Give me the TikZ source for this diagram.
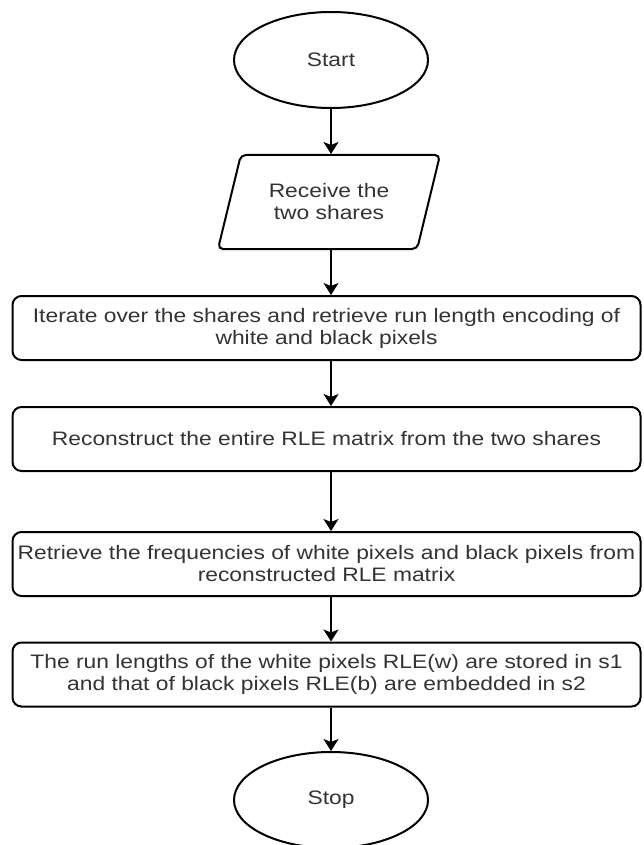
\documentclass[tikz,border=0pt]{standalone}
\usepackage{fontspec}
\setmainfont{Liberation Sans}[FakeStretch=1.17]
\usetikzlibrary{shapes.geometric,arrows.meta}
\definecolor{txtgray}{HTML}{333333}

\tikzset{
  term/.style={ellipse, draw, line width=2pt, minimum width=194pt,
    minimum height=96pt, text=txtgray, font=\fontsize{19.5}{22}\selectfont},
  io/.style={trapezium, trapezium left angle=62, trapezium right angle=118,
    trapezium stretches body, draw, line width=2pt, rounded corners=5pt,
    minimum width=222pt, minimum height=94pt, align=center,
    text=txtgray, font=\fontsize{19.5}{22}\selectfont},
  proc/.style={rectangle, draw, line width=2pt, rounded corners=9pt,
    minimum width=628pt, minimum height=64pt, align=center,
    text=txtgray, font=\fontsize{19.5}{22}\selectfont},
  flow/.style={-{Stealth[length=12pt,width=15pt,inset=3pt]}, line width=1.6pt}
}

\begin{document}
\begin{tikzpicture}[x=1pt, y=-1pt]

  \useasboundingbox (0,0) rectangle (643,845);

  % --- start ---
  \node[term] (start) at (331, 60) {Start};

  % --- input ---
  \node[io] (receive) at (329, 202) {Receive the\\two shares};

  % --- steps ---
  \node[proc] (iterate) at (326.5, 328) {Iterate over the shares and retrieve run length encoding of\\white and black pixels};
  \node[proc] (rebuild) at (326.5, 439) {Reconstruct the entire RLE matrix from the two shares};
  \node[proc] (freq) at (326.5, 564) {Retrieve the frequencies of white pixels and black pixels from\\reconstructed RLE matrix};
  \node[proc] (store) at (326.5, 674.5) {The run lengths of the white pixels RLE(w) are stored in s1\\and that of black pixels RLE(b) are embedded in s2};

  % --- stop ---
  \node[term] (stop) at (331, 800) {Stop};

  % --- arrows ---
  \draw[flow] (start.south) -- (start.south |- receive.north);
  \draw[flow] (start.south |- receive.south) -- (start.south |- iterate.north);
  \draw[flow] (start.south |- iterate.south) -- (start.south |- rebuild.north);
  \draw[flow] (start.south |- rebuild.south) -- (start.south |- freq.north);
  \draw[flow] (start.south |- freq.south) -- (start.south |- store.north);
  \draw[flow] (start.south |- store.south) -- (stop.north);

\end{tikzpicture}
\end{document}
